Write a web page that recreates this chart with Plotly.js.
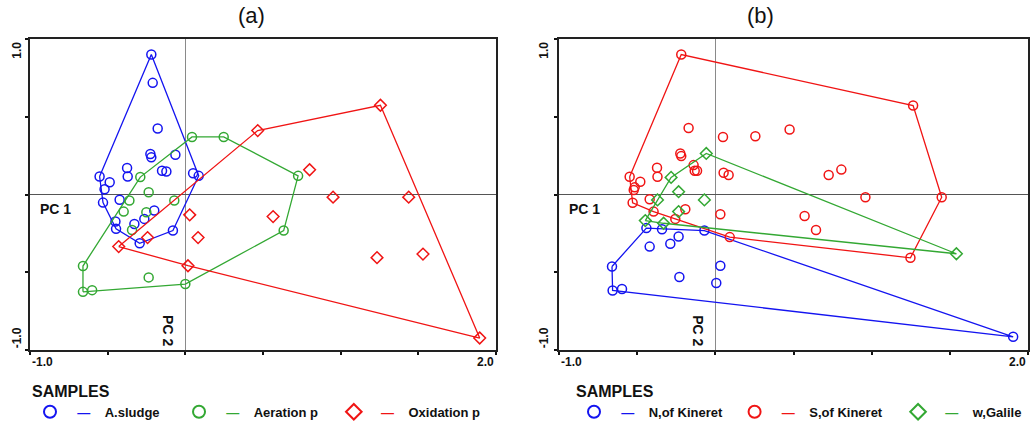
<!DOCTYPE html>
<html>
<head>
<meta charset="utf-8">
<script src="https://cdn.plot.ly/plotly-3.0.1.min.js"></script>
<style>
  html, body { margin: 0; padding: 0; background: #ffffff; }
  #chart { width: 1032px; height: 425px; }
</style>
</head>
<body>
<div id="chart"></div>
<script>
// ---------------- Data ----------------
// Panel (a)
const aSludgeX   = [-0.219,-0.21,-0.178,-0.225,-0.219,-0.064,-0.375,-0.371,-0.15,-0.122,-0.552,-0.487,-0.52,0.05,0.086,-0.53,-0.423,-0.2,-0.264,-0.328,-0.45,-0.446,-0.294,-0.08];
const aSludgeY   = [0.90,0.718,0.424,0.26,0.239,0.256,0.17,0.116,0.153,0.148,0.116,0.079,0.034,0.137,0.12,-0.052,-0.034,-0.103,-0.157,-0.19,-0.174,-0.221,-0.314,-0.232];
const aerationX  = [0.043,0.247,0.726,0.633,0.0,-0.236,-0.6,-0.659,-0.659,-0.29,-0.236,-0.071,-0.36,-0.397,-0.251,-0.343];
const aerationY  = [0.37,0.37,0.12,-0.232,-0.576,-0.533,-0.615,-0.626,-0.46,0.112,0.015,-0.039,-0.039,-0.11,-0.114,-0.228];
const oxidationX = [-0.429,0.028,0.082,-0.243,0.017,0.466,1.256,0.80,0.951,1.438,0.565,1.234,1.53,1.895];
const oxidationY = [-0.335,-0.131,-0.277,-0.277,-0.458,0.411,0.574,0.159,-0.017,-0.017,-0.142,-0.406,-0.383,-0.923];

// Panel (b)
const northX  = [-0.441,-0.341,-0.07,-0.235,-0.288,-0.42,-0.661,0.032,-0.23,0.006,-0.657,-0.597,1.905];
const northY  = [-0.216,-0.223,-0.232,-0.27,-0.317,-0.335,-0.463,-0.458,-0.531,-0.569,-0.617,-0.608,-0.915];
const southX  = [-0.218,-0.171,0.049,0.256,0.475,1.265,0.725,0.806,0.96,1.448,0.571,0.644,1.248,-0.224,-0.218,-0.373,-0.37,-0.139,-0.132,-0.117,-0.548,-0.48,-0.516,-0.522,0.053,0.085,-0.529,-0.42,-0.395,-0.192,-0.256,0.032,0.092];
const southY  = [0.90,0.428,0.37,0.375,0.418,0.572,0.125,0.16,-0.018,-0.018,-0.138,-0.228,-0.407,0.264,0.247,0.172,0.114,0.189,0.153,0.153,0.114,0.082,0.046,0.029,0.14,0.125,-0.053,-0.031,-0.11,-0.095,-0.157,-0.127,-0.274];
const galileX = [-0.058,-0.283,-0.235,-0.07,-0.37,-0.235,-0.448,-0.331,1.542];
const galileY = [0.264,0.11,0.018,-0.035,-0.035,-0.11,-0.168,-0.185,-0.381];

const panelTitles = ['(a)', '(b)'];
const legendTitle = 'SAMPLES';
const namesA = ['A.sludge', 'Aeration p', 'Oxidation p'];
const namesB = ['N,of Kineret', 'S,of Kineret', 'w,Galile'];
const axisEndLabels = { xMin: '-1.0', xMax: '2.0', yMin: '-1.0', yMax: '1.0' };
const axisNames = { h: 'PC 1', v: 'PC 2' };

// ---------------- Styling ----------------
const BLUE = '#1414f0', GREEN = '#33a833', RED = '#f01414';
const FONT = 'Arial, "Liberation Sans", Helvetica, sans-serif';

// Convex hull (monotone chain) -> closed outline
function hull(xs, ys) {
  const pts = xs.map((x, i) => [x, ys[i]]).sort((a, b) => a[0] - b[0] || a[1] - b[1]);
  const cross = (o, a, b) => (a[0]-o[0])*(b[1]-o[1]) - (a[1]-o[1])*(b[0]-o[0]);
  const lower = [], upper = [];
  for (const p of pts) { while (lower.length >= 2 && cross(lower[lower.length-2], lower[lower.length-1], p) <= 0) lower.pop(); lower.push(p); }
  for (let i = pts.length - 1; i >= 0; i--) { const p = pts[i]; while (upper.length >= 2 && cross(upper[upper.length-2], upper[upper.length-1], p) <= 0) upper.pop(); upper.push(p); }
  upper.pop(); lower.pop();
  const h = lower.concat(upper); h.push(h[0]);
  return { x: h.map(p => p[0]), y: h.map(p => p[1]) };
}

const NB = '\u00a0';
function legendName(name, color, pad) {
  return '<span style="color:' + color + '">' + NB + NB + '\u2014' + NB + NB + NB + NB + '</span>' + name + NB.repeat(pad);
}

const traces = [];
function addGroup(xs, ys, color, symbol, name, pad, xa, ya, legendId) {
  const h = hull(xs, ys);
  traces.push({
    type: 'scatter', mode: 'lines', x: h.x, y: h.y, xaxis: xa, yaxis: ya,
    line: { color: color, width: 1.3 }, showlegend: false, hoverinfo: 'skip'
  });
  traces.push({
    type: 'scatter', mode: 'markers', x: xs, y: ys, xaxis: xa, yaxis: ya,
    name: legendName(name, color, pad), legend: legendId,
    marker: { symbol: symbol, size: 9, color: color, line: { color: color, width: 1.5 } }
  });
}

addGroup(aSludgeX, aSludgeY, BLUE, 'circle-open', namesA[0], 4, 'x', 'y', 'legend');
addGroup(aerationX, aerationY, GREEN, 'circle-open', namesA[1], 3, 'x', 'y', 'legend');
addGroup(oxidationX, oxidationY, RED, 'diamond-open', namesA[2], 0, 'x', 'y', 'legend');
addGroup(northX, northY, BLUE, 'circle-open', namesB[0], 2, 'x2', 'y2', 'legend2');
addGroup(southX, southY, RED, 'circle-open', namesB[1], 3, 'x2', 'y2', 'legend2');
addGroup(galileX, galileY, GREEN, 'diamond-open', namesB[2], 0, 'x2', 'y2', 'legend2');

const W = 1032, H = 425;
const yDom = [1 - 350 / H, 1 - 39 / H];
function xAxis(domain, anchor) {
  return {
    domain: domain, anchor: anchor, range: [-1, 2], tick0: -1, dtick: 0.5,
    showgrid: false, showticklabels: false, ticks: 'outside', ticklen: 3, tickwidth: 2, tickcolor: '#111',
    showline: true, mirror: true, linecolor: '#222', linewidth: 2,
    zeroline: true, zerolinecolor: '#8a8a8a', zerolinewidth: 1.6, fixedrange: true
  };
}
function yAxis(anchor) {
  return {
    domain: yDom, anchor: anchor, range: [-1, 1], tick0: -1, dtick: 0.5,
    showgrid: false, showticklabels: false, ticks: 'outside', ticklen: 3, tickwidth: 2, tickcolor: '#111',
    showline: true, mirror: true, linecolor: '#222', linewidth: 2,
    zeroline: true, zerolinecolor: '#555', zerolinewidth: 1.6, fixedrange: true
  };
}

const annotations = [];
function panelAnn(xr, yr, yLabelX) {
  const base = { showarrow: false, font: { family: FONT, size: 12, color: '#111' } };
  annotations.push(Object.assign({}, base, { xref: xr, yref: 'paper', x: -1, y: 1 - 362 / H, xanchor: 'left', yanchor: 'middle', text: '<b>' + axisEndLabels.xMin + '</b>' }));
  annotations.push(Object.assign({}, base, { xref: xr, yref: 'paper', x: 2, y: 1 - 362 / H, xanchor: 'right', yanchor: 'middle', text: '<b>' + axisEndLabels.xMax + '</b>' }));
  annotations.push(Object.assign({}, base, { xref: 'paper', yref: yr, x: yLabelX / W, y: 0.925, xanchor: 'center', yanchor: 'middle', textangle: -90, text: '<b>' + axisEndLabels.yMax + '</b>' }));
  annotations.push(Object.assign({}, base, { xref: 'paper', yref: yr, x: yLabelX / W, y: -0.925, xanchor: 'center', yanchor: 'middle', textangle: -90, text: '<b>' + axisEndLabels.yMin + '</b>' }));
  annotations.push({ showarrow: false, xref: xr, yref: yr, x: -0.835, y: -0.093, xanchor: 'center', yanchor: 'middle', text: '<b>' + axisNames.h + '</b>', font: { family: FONT, size: 14, color: '#111' } });
  annotations.push({ showarrow: false, xref: xr, yref: yr, x: -0.112, y: -0.878, xanchor: 'center', yanchor: 'middle', textangle: 90, text: '<b>' + axisNames.v + '</b>', font: { family: FONT, size: 14, color: '#111' } });
}
panelAnn('x', 'y', 17);
panelAnn('x2', 'y2', 544);
annotations.push({ showarrow: false, xref: 'paper', yref: 'paper', x: 251 / W, y: 1 - 16 / H, xanchor: 'center', yanchor: 'middle', text: panelTitles[0], font: { family: FONT, size: 22, color: '#111' } });
annotations.push({ showarrow: false, xref: 'paper', yref: 'paper', x: 760 / W, y: 1 - 16 / H, xanchor: 'center', yanchor: 'middle', text: panelTitles[1], font: { family: FONT, size: 22, color: '#111' } });

function legendCfg(xpx) {
  return {
    x: xpx / W, y: 1 - 376 / H, xanchor: 'left', yanchor: 'top', orientation: 'h',
    bgcolor: 'rgba(0,0,0,0)', borderwidth: 0, itemsizing: 'constant',
    title: { text: '<b>' + legendTitle + '</b>', side: 'top', font: { family: FONT, size: 16, color: '#111' } },
    font: { family: FONT, size: 13, color: '#111', weight: 'bold' },
    itemclick: false, itemdoubleclick: false
  };
}

const layout = {
  width: W, height: H, margin: { l: 0, r: 0, t: 0, b: 0, autoexpand: false },
  paper_bgcolor: '#ffffff', plot_bgcolor: '#ffffff',
  font: { family: FONT, color: '#111' },
  xaxis: xAxis([30 / W, 496 / W], 'y'),
  yaxis: yAxis('x'),
  xaxis2: xAxis([559 / W, 1028 / W], 'y2'),
  yaxis2: yAxis('x2'),
  legend: legendCfg(30),
  legend2: legendCfg(574),
  annotations: annotations,
  showlegend: true
};

Plotly.newPlot('chart', traces, layout, { displayModeBar: false, staticPlot: true });
</script>
</body>
</html>
